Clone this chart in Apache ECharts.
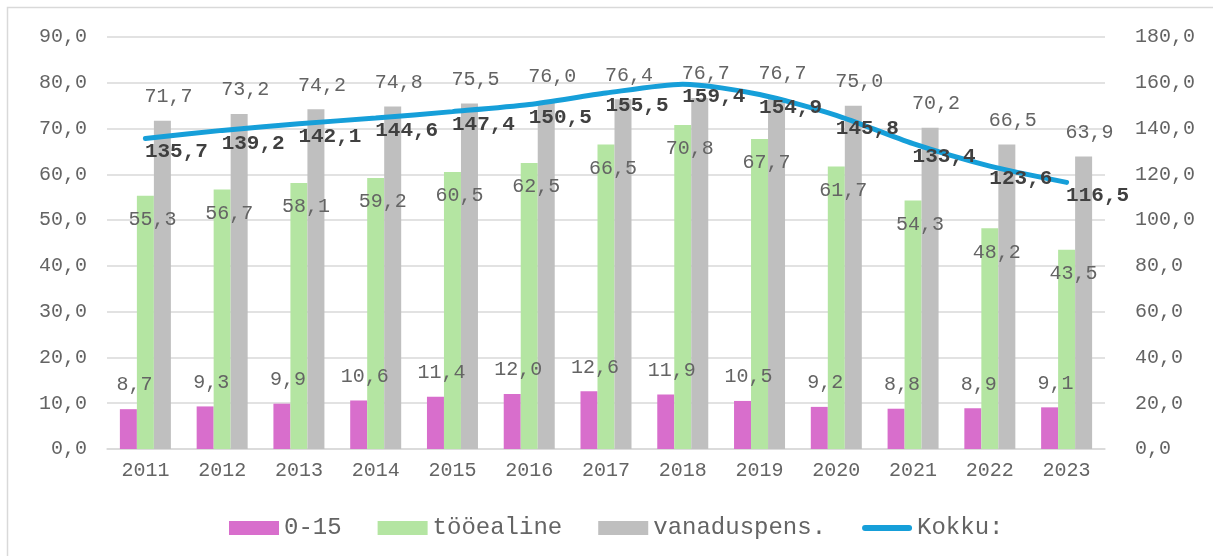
<!DOCTYPE html>
<html>
<head>
<meta charset="utf-8">
<script src="https://cdn.jsdelivr.net/npm/echarts@6/dist/echarts.min.js"></script>
<style>
  html, body { margin: 0; padding: 0; background: #fff; }
  #chart { width: 1213px; height: 556px; }
</style>
</head>
<body>
<div id="chart"></div>
<script>
const years = ['2011', '2012', '2013', '2014', '2015', '2016', '2017', '2018', '2019', '2020', '2021', '2022', '2023']
const children = [8.7, 9.3, 9.9, 10.6, 11.4, 12.0, 12.6, 11.9, 10.5, 9.2, 8.8, 8.9, 9.1]
const working = [55.3, 56.7, 58.1, 59.2, 60.5, 62.5, 66.5, 70.8, 67.7, 61.7, 54.3, 48.2, 43.5]
const pension = [71.7, 73.2, 74.2, 74.8, 75.5, 76.0, 76.4, 76.7, 76.7, 75.0, 70.2, 66.5, 63.9]
const total = [135.7, 139.2, 142.1, 144.6, 147.4, 150.5, 155.5, 159.4, 154.9, 145.8, 133.4, 123.6, 116.5]

const font = 'Liberation Mono'
const textColor = '#646464'
const fmt = v => Number(v).toFixed(1).replace('.', ',')

let myChart = echarts.init(document.getElementById('chart'))

let barLabel = {
  show: true,
  position: 'top',
  offset: [6, -9],
  color: textColor,
  fontFamily: font,
  fontSize: 20,
  formatter: p => fmt(p.value)
}

let option = {
  animation: false,
  textStyle: { fontFamily: font },
  graphic: [
    {
      type: 'rect',
      shape: { x: 7.5, y: 7.5, width: 1230, height: 600 },
      style: { fill: 'none', stroke: '#d9d9d9', lineWidth: 1.5 },
      silent: true
    }
  ],
  grid: {
    left: 107,
    right: 108,
    top: 37,
    bottom: 107
  },
  legend: {
    top: 511,
    left: 224,
    itemWidth: 50,
    itemHeight: 14,
    itemGap: 36,
    textStyle: { color: textColor, fontFamily: font, fontSize: 24 },
    data: [
      { name: '0-15', icon: 'rect' },
      { name: 'tööealine', icon: 'rect' },
      { name: 'vanaduspens.', icon: 'rect' },
      { name: 'Kokku:', icon: 'path://M3,0 L47,0 A3,3 0 0 1 47,6 L3,6 A3,3 0 0 1 3,0 Z' }
    ]
  },
  xAxis: {
    type: 'category',
    data: years,
    axisTick: { show: false },
    axisLine: { lineStyle: { color: '#d9d9d9', width: 1.5 } },
    axisLabel: { color: textColor, fontFamily: font, fontSize: 20, margin: 12 }
  },
  yAxis: [
    {
      type: 'value',
      min: 0,
      max: 90,
      interval: 10,
      axisLine: { show: false },
      axisTick: { show: false },
      axisLabel: { color: textColor, fontFamily: font, fontSize: 20, margin: 20, formatter: fmt },
      splitLine: { lineStyle: { color: '#d9d9d9', width: 1.5 } }
    },
    {
      type: 'value',
      min: 0,
      max: 180,
      interval: 20,
      axisLine: { show: false },
      axisTick: { show: false },
      axisLabel: { color: textColor, fontFamily: font, fontSize: 20, margin: 30, formatter: fmt },
      splitLine: { show: false }
    }
  ],
  series: [
    {
      name: '0-15',
      type: 'bar',
      data: children,
      barWidth: 17,
      barGap: '0%',
      itemStyle: { color: '#d86ecc' },
      label: barLabel
    },
    {
      name: 'tööealine',
      type: 'bar',
      data: working,
      barWidth: 17,
      barGap: '0%',
      itemStyle: { color: '#b4e5a2' },
      label: Object.assign({}, barLabel, { position: 'insideTop', offset: [7, 9] })
    },
    {
      name: 'vanaduspens.',
      type: 'bar',
      data: pension,
      barWidth: 17,
      barGap: '0%',
      itemStyle: { color: '#bfbfbf' },
      label: barLabel
    },
    {
      name: 'Kokku:',
      type: 'line',
      yAxisIndex: 1,
      data: total,
      smooth: 0.25,
      symbol: 'circle',
      symbolSize: 0.1,
      lineStyle: { color: '#169fd9', width: 5, cap: 'round' },
      itemStyle: { color: '#169fd9' },
      label: {
        show: true,
        position: 'inside',
        offset: [31, 13],
        color: '#404040',
        fontWeight: 'bold',
        fontFamily: font,
        fontSize: 21,
        formatter: p => fmt(p.value)
      },
      z: 5
    }
  ]
}
myChart.setOption(option)
</script>
</body>
</html>
